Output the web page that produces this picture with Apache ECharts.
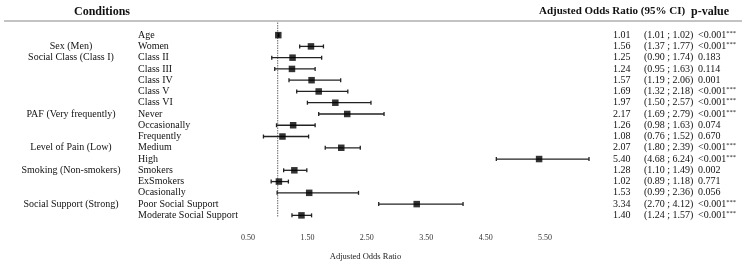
<!DOCTYPE html>
<html lang="en">
<head>
    <meta charset="UTF-8">
    <title>Adjusted Odds Ratio</title>
    <style>
        html, body { margin: 0; padding: 0; background: #fff; }
    </style>
</head>
<body>
<div id="main" style="width: 748px;height:266px;"></div>
<script src="https://cdn.jsdelivr.net/npm/echarts@6/dist/echarts.min.js"></script>
<script>
    var categories = ['Age', 'Women', 'Class II', 'Class III', 'Class IV', 'Class V', 'Class VI',
        'Never', 'Occasionally', 'Frequently', 'Medium', 'High', 'Smokers', 'ExSmokers',
        'Ocasionally', 'Poor Social Support', 'Moderate Social Support'];
    var groups = ['', 'Sex (Men)', 'Social Class (Class I)', '', '', '', '',
        'PAF (Very frequently)', '', '', 'Level of Pain (Low)', '', 'Smoking (Non-smokers)', '',
        '', 'Social Support (Strong)', ''];
    var oddsRatio = [1.01, 1.56, 1.25, 1.24, 1.57, 1.69, 1.97, 2.17, 1.26, 1.08, 2.07, 5.40, 1.28, 1.02, 1.53, 3.34, 1.40];
    var ciLow = [1.01, 1.37, 0.90, 0.95, 1.19, 1.32, 1.50, 1.69, 0.98, 0.76, 1.80, 4.68, 1.10, 0.89, 0.99, 2.70, 1.24];
    var ciHigh = [1.02, 1.77, 1.74, 1.63, 2.06, 2.18, 2.57, 2.79, 1.63, 1.52, 2.39, 6.24, 1.49, 1.18, 2.36, 4.12, 1.57];
    var pValues = ['<0.001', '<0.001', '0.183', '0.114', '0.001', '<0.001', '<0.001', '<0.001', '0.074',
        '0.670', '<0.001', '<0.001', '0.002', '0.771', '0.056', '<0.001', '<0.001'];
    var stars = ['***', '***', '', '', '', '***', '***', '***', '', '', '***', '***', '', '', '', '***', '***'];
    var refValue = 1;

    var font = '"Liberation Serif", "DejaVu Serif", serif';
    var myChart = echarts.init(document.getElementById('main'));

    var ciData = [];
    var pointData = [];
    for (var i = 0; i < categories.length; i++) {
        ciData.push([ciLow[i], ciHigh[i], i]);
        pointData.push([oddsRatio[i], i]);
    }

    var option = {
        backgroundColor: '#fff',
        animation: false,
        textStyle: { fontFamily: font },
        grid: { left: 248, right: 159, top: 29.5, height: 196.6 },
        graphic: [
            { type: 'text', left: 74, top: 6, style: { text: 'Conditions', font: 'bold 12px ' + font, fill: '#111' } },
            { type: 'text', left: 539, top: 6, style: { text: 'Adjusted Odds Ratio (95% CI)', font: 'bold 11px ' + font, fill: '#111' } },
            { type: 'text', left: 691, top: 6, style: { text: 'p-value', font: 'bold 12px ' + font, fill: '#111' } },
            { type: 'line', shape: { x1: 4, y1: 21, x2: 742, y2: 21 }, style: { stroke: '#888', lineWidth: 1.2 } }
        ],
        xAxis: {
            type: 'value',
            min: 0.5,
            max: 6.24,
            interval: 1,
            offset: 6,
            axisLine: { lineStyle: { color: '#c8c8c8' } },
            axisTick: { show: false },
            splitLine: { show: false },
            axisLabel: {
                fontSize: 8, color: '#333', margin: 7, showMaxLabel: false,
                formatter: function (v) { return v.toFixed(2); }
            },
            name: 'Adjusted Odds Ratio',
            nameLocation: 'middle',
            nameGap: 25,
            nameTextStyle: { fontSize: 8.5, color: '#222', padding: [0, 106, 0, 0] }
        },
        yAxis: [{
            type: 'category',
            inverse: true,
            data: categories,
            axisLine: { show: false },
            axisTick: { show: false },
            axisLabel: { interval: 0, align: 'left', margin: 110, fontSize: 10, color: '#111' }
        }, {
            type: 'category',
            inverse: true,
            position: 'left',
            data: categories,
            axisLine: { show: false },
            axisTick: { show: false },
            axisLabel: {
                interval: 0, align: 'center', margin: 177, fontSize: 10, color: '#111',
                formatter: function (v, idx) { return groups[idx]; }
            }
        }, {
            type: 'category',
            inverse: true,
            position: 'right',
            data: categories,
            axisLine: { show: false },
            axisTick: { show: false },
            axisLabel: {
                interval: 0, align: 'left', margin: 24, fontSize: 10, color: '#111',
                formatter: function (v, idx) {
                    var s = '{a|' + oddsRatio[idx].toFixed(2) + '}{b|(' + ciLow[idx].toFixed(2) + ' ; ' + ciHigh[idx].toFixed(2) + ')}{c|' + pValues[idx] + '}';
                    if (stars[idx]) s += '{s|' + stars[idx] + '}';
                    return s;
                },
                rich: {
                    a: { width: 31, fontSize: 10, fontFamily: font, color: '#111' },
                    b: { width: 54, fontSize: 10, fontFamily: font, color: '#111' },
                    c: { fontSize: 10, fontFamily: font, color: '#111' },
                    s: { fontSize: 6.5, fontFamily: font, color: '#111', padding: [0, 0, 4, 0] }
                }
            }
        }],
        series: [{
            name: 'reference',
            type: 'custom',
            silent: true,
            data: [[refValue, 0]],
            renderItem: function (params, api) {
                var cs = params.coordSys;
                var top = api.coord([api.value(0), 0]);
                var bottom = api.coord([api.value(0), categories.length - 1]);
                return {
                    type: 'line',
                    shape: { x1: top[0], y1: cs.y - 7, x2: top[0], y2: bottom[1] + 2 },
                    style: { stroke: '#666', lineWidth: 1, lineDash: [1.5, 1] }
                };
            },
            z: 1
        }, {
            name: 'CI',
            type: 'custom',
            data: ciData,
            encode: { x: [0, 1], y: 2 },
            renderItem: function (params, api) {
                var p1 = api.coord([api.value(0), api.value(2)]);
                var p2 = api.coord([api.value(1), api.value(2)]);
                var h = 2;
                var st = { stroke: '#222', lineWidth: 1.3 };
                return {
                    type: 'group',
                    children: [
                        { type: 'line', shape: { x1: p1[0], y1: p1[1], x2: p2[0], y2: p2[1] }, style: st },
                        { type: 'line', shape: { x1: p1[0], y1: p1[1] - h, x2: p1[0], y2: p1[1] + h }, style: st },
                        { type: 'line', shape: { x1: p2[0], y1: p2[1] - h, x2: p2[0], y2: p2[1] + h }, style: st }
                    ]
                };
            },
            z: 2
        }, {
            name: 'OR',
            type: 'scatter',
            data: pointData,
            symbol: 'rect',
            symbolSize: 6.5,
            itemStyle: { color: '#000' },
            z: 3
        }]
    };

    myChart.setOption(option);
</script>
</body>
</html>
